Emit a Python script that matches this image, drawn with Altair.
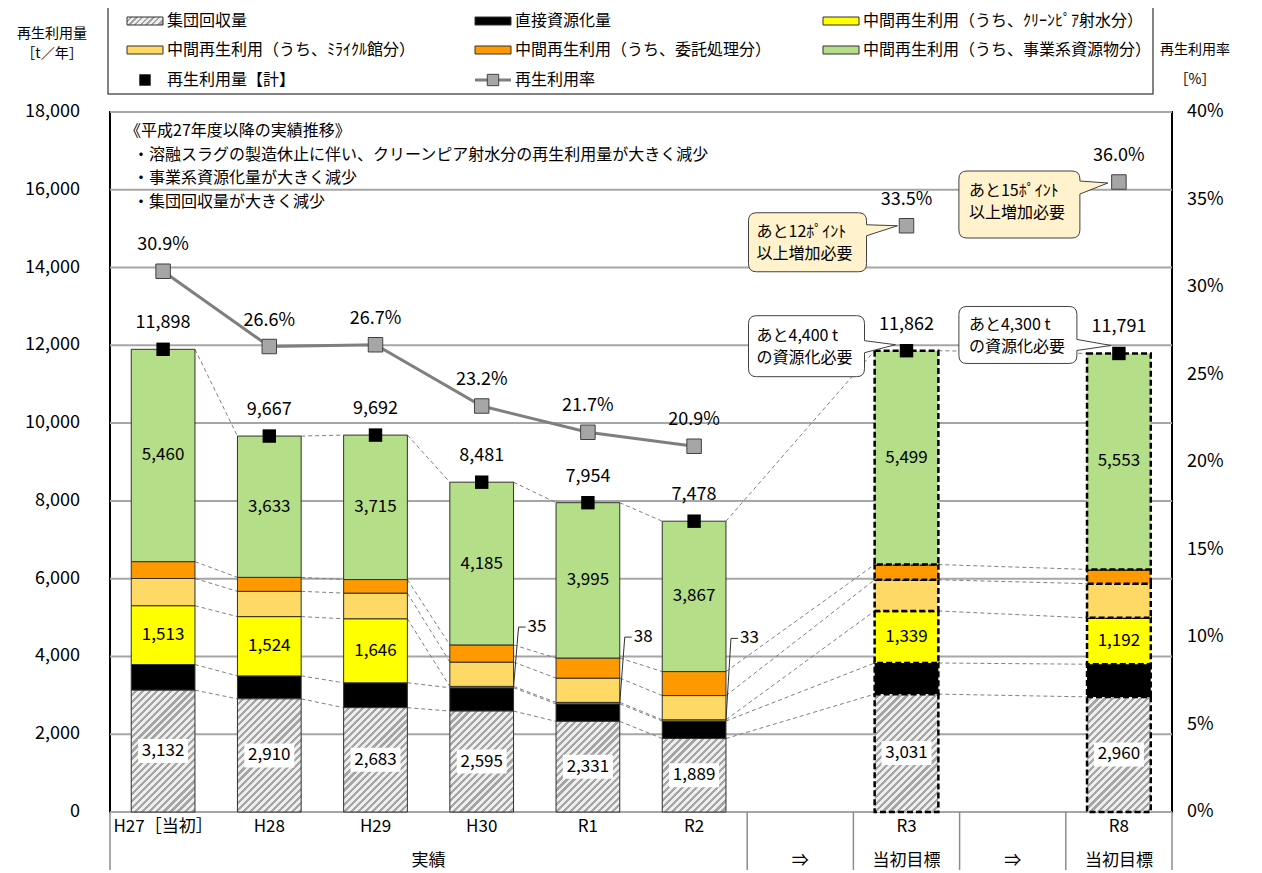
import altair as alt
import numpy as np
import pandas as pd

FONT = "Noto Sans CJK JP"

# ---------------- data ----------------
categories = ["H27［当初］", "H28", "H29", "H30", "R1", "R2", "R3", "R8"]
category_slots = [0, 1, 2, 3, 4, 5, 7, 9]
is_target = [False, False, False, False, False, False, True, True]
group_labels = ["実績", "⇒", "当初目標", "⇒", "当初目標"]
group_bounds = [0, 6, 7, 8, 9, 10]

series_names = [
    "集団回収量",
    "直接資源化量",
    "中間再生利用（うち、ｸﾘｰﾝﾋﾟｱ射水分）",
    "中間再生利用（うち、ﾐﾗｲｸﾙ館分）",
    "中間再生利用（うち、委託処理分）",
    "中間再生利用（うち、事業系資源物分）",
]
shudan = [3132, 2910, 2683, 2595, 2331, 1889, 3031, 2960]
chokusetsu = [660, 590, 640, 600, 450, 450, 800, 840]
cleanpia = [1513, 1524, 1646, 35, 38, 33, 1339, 1192]
miraikuru = [700, 650, 660, 625, 624, 622, 800, 880]
itaku = [433, 360, 348, 441, 516, 617, 393, 366]
jigyokei = [5460, 3633, 3715, 4185, 3995, 3867, 5499, 5553]
totals = [11898, 9667, 9692, 8481, 7954, 7478, 11862, 11791]
rates = [30.9, 26.6, 26.7, 23.2, 21.7, 20.9, 33.5, 36.0]

left_ticks = [0, 2000, 4000, 6000, 8000, 10000, 12000, 14000, 16000, 18000]
right_ticks = [0, 5, 10, 15, 20, 25, 30, 35, 40]

total_legend = "再生利用量【計】"
rate_legend = "再生利用率"

annotation_lines = [
    "《平成27年度以降の実績推移》",
    "・溶融スラグの製造休止に伴い、クリーンピア射水分の再生利用量が大きく減少",
    "・事業系資源化量が大きく減少",
    "・集団回収量が大きく減少",
]
callout_texts = [
    "あと12ﾎﾟｲﾝﾄ\n以上増加必要",
    "あと15ﾎﾟｲﾝﾄ\n以上増加必要",
    "あと4,400 t\nの資源化必要",
    "あと4,300 t\nの資源化必要",
]
left_title = ["再生利用量", "［t／年］"]
right_title = ["再生利用率", "［%］"]

# ---------------- layout / style ----------------
W, H = 1062, 700
N_SLOTS = 10
YMAX = 18000
RMAX = 40
PX_X = W / N_SLOTS
PX_Y = H / YMAX
BAR_HALF = 0.3
seg_colors = [None, "#000000", "#FFFF00", "#FFD966", "#FF9900", "#B5DE88"]
HATCH_LIGHT, HATCH_DARK = "#eeeeee", "#a5a5a5"

x_scale = alt.Scale(domain=[0, N_SLOTS], nice=False, zero=False)
y_scale = alt.Scale(domain=[0, YMAX], nice=False, zero=True)
r_scale = alt.Scale(domain=[0, RMAX], nice=False, zero=True)


def X(f):
    return alt.X(f, type="quantitative", scale=x_scale, axis=None)


def Y(f):
    return alt.Y(f, type="quantitative", scale=y_scale, axis=None)


def R(f):
    return alt.Y(f, type="quantitative", scale=r_scale, axis=None)


def PX(f):
    return alt.X(f, type="quantitative", scale=None, axis=None)


def PY(f):
    return alt.Y(f, type="quantitative", scale=None, axis=None)


def hatch_gradient(w_px, h_px, period=5.0, dark_frac=0.45):
    length = (w_px ** 2 + h_px ** 2) / (w_px * np.sqrt(2))
    n = length / period
    stops = []
    k = 0
    while k < n:
        a = k / n
        b = min((k + 1 - dark_frac) / n, 1.0)
        c = min((k + 1) / n, 1.0)
        stops += [
            alt.GradientStop(offset=a, color=HATCH_LIGHT),
            alt.GradientStop(offset=b, color=HATCH_LIGHT),
            alt.GradientStop(offset=b, color=HATCH_DARK),
            alt.GradientStop(offset=c, color=HATCH_DARK),
        ]
        k += 1
    return alt.LinearGradient(gradient="linear", stops=stops, x1=0, y1=0, x2=1, y2=h_px / w_px)


# ---------------- derived tables ----------------
series_values = [shudan, chokusetsu, cleanpia, miraikuru, itaku, jigyokei]
rows = []
for i, cat in enumerate(categories):
    c = category_slots[i] + 0.5
    base = 0
    for k, vals in enumerate(series_values):
        v = vals[i]
        rows.append(dict(cat=cat, i=i, k=k, series=series_names[k], x=c - BAR_HALF, x2=c + BAR_HALF,
                         xm=c, y0=base, y1=base + v, v=v, mid=base + v / 2, lab=f"{v:,}",
                         target=is_target[i]))
        base += v
bars = pd.DataFrame(rows)

conn = []
for i in range(len(categories) - 1):
    for k in range(len(series_values)):
        a = bars[(bars.i == i) & (bars.k == k)].iloc[0]
        b = bars[(bars.i == i + 1) & (bars.k == k)].iloc[0]
        conn.append(dict(x=a.x2, x2=b.x, y=a.y1, y2=b.y1))
conn = pd.DataFrame(conn)

pts = pd.DataFrame(dict(
    xc=[s + 0.5 for s in category_slots], total=totals, rate=rates,
    tlab=[f"{t:,}" for t in totals], rlab=[f"{r:.1f}%" for r in rates],
    target=is_target,
))

# ---------------- volume layers ----------------
lt = pd.DataFrame({"v": left_ticks, "lab": [f"{t:,}" for t in left_ticks]})
grid_layer = alt.Chart(lt).mark_rule(color="#a6a6a6", strokeWidth=2).encode(
    y=Y("v"), x=alt.value(0), x2=alt.value(W))
left_labels = alt.Chart(lt).mark_text(font=FONT, fontSize=18, align="right", baseline="middle",
                                      color="#000000").encode(y=Y("v"), x=alt.value(-30), text="lab:N")

conn_layer = alt.Chart(conn).mark_rule(color="#7f7f7f", strokeWidth=1, strokeDash=[4, 3]).encode(
    x=X("x"), x2="x2", y=Y("y"), y2="y2")

solid = bars[bars.k > 0]
color_enc = alt.Color("series:N", scale=alt.Scale(domain=series_names[1:], range=seg_colors[1:]), legend=None)
bars_actual = alt.Chart(solid[~solid.target]).mark_rect(stroke="#303030", strokeWidth=1).encode(
    x=X("x"), x2="x2", y=Y("y0"), y2="y1", fill=color_enc)
bars_target = alt.Chart(solid[solid.target]).mark_rect(stroke="#000000", strokeWidth=2.5, strokeDash=[6, 3]).encode(
    x=X("x"), x2="x2", y=Y("y0"), y2="y1", fill=color_enc)

hatch_layers = []
for _, r in bars[bars.k == 0].iterrows():
    g = hatch_gradient(2 * BAR_HALF * PX_X, r.v * PX_Y)
    if r.target:
        props = dict(fill=g, stroke="#000000", strokeWidth=2.5, strokeDash=[6, 3])
    else:
        props = dict(fill=g, stroke="#303030", strokeWidth=1)
    hatch_layers.append(alt.Chart(pd.DataFrame([r])).mark_rect(**props).encode(
        x=X("x"), x2="x2", y=Y("y0"), y2="y1"))

sh = bars[bars.k == 0]
label_box = alt.Chart(sh).mark_point(shape="M-25,-12H25V12H-25Z", size=4, filled=True, fill="#ffffff",
                                     strokeWidth=0, opacity=1).encode(x=X("xm"), y=Y("mid"))
sh_text = alt.Chart(sh).mark_text(font=FONT, fontSize=17, color="#000000").encode(
    x=X("xm"), y=Y("mid"), text="lab:N")

inside = bars[((bars.k == 2) & (bars.v > 100)) | (bars.k == 5)]
inside_text = alt.Chart(inside).mark_text(font=FONT, fontSize=17, color="#000000").encode(
    x=X("xm"), y=Y("mid"), text="lab:N")

# small values with leader lines
small = bars[(bars.k == 2) & (bars.v < 100)].reset_index(drop=True)
small_dy_px = [-60, -66, -82]
lead = []
for j, r in small.iterrows():
    yk = r.mid - small_dy_px[j] / PX_Y
    xk = r.x2 + 5 / PX_X
    lead.append(dict(x=r.x2, y=r.mid, x2=xk, y2=yk, tx=r.x2 + 14 / PX_X, ty=yk, lab=r.lab))
    lead.append(dict(x=xk, y=yk, x2=r.x2 + 12 / PX_X, y2=yk, tx=None, ty=None, lab=None))
lead = pd.DataFrame(lead)
lead_rules = alt.Chart(lead).mark_rule(color="#303030", strokeWidth=1).encode(x=X("x"), x2="x2", y=Y("y"), y2="y2")
lead_text = alt.Chart(lead.dropna()).mark_text(font=FONT, fontSize=17, align="left", color="#000000").encode(
    x=X("tx"), y=Y("ty"), text="lab:N")

total_marks = alt.Chart(pts).mark_square(size=180, color="#000000", opacity=1).encode(x=X("xc"), y=Y("total"))
total_text = alt.Chart(pts).mark_text(font=FONT, fontSize=18, dy=-26, color="#000000").encode(
    x=X("xc"), y=Y("total"), text="tlab:N")


def callout_path(x0, x1, y0, y1, t_top, t_bot, tipx, tipy, r=8):
    return (f"M{x0 + r},{y0}H{x1 - r}Q{x1},{y0} {x1},{y0 + r}V{t_top}L{tipx},{tipy}L{x1},{t_bot}"
            f"V{y1 - r}Q{x1},{y1} {x1 - r},{y1}H{x0 + r}Q{x0},{y1} {x0},{y1 - r}V{y0 + r}Q{x0},{y0} {x0 + r},{y0}Z")


def callout(xv, yv, ench, text, fill, geom, text_dx, text_dy):
    df = pd.DataFrame({"x": [xv], "y": [yv], "t": [text]})
    shape = alt.Chart(df).mark_point(shape=callout_path(*geom), size=4, filled=True, fill=fill,
                                     stroke="#404040", strokeWidth=1, opacity=1).encode(x=X("x"), y=ench("y"))
    txt = alt.Chart(df).mark_text(font=FONT, fontSize=16, align="left", baseline="middle", lineBreak="\n",
                                  lineHeight=22, dx=text_dx, dy=text_dy, color="#000000").encode(
        x=X("x"), y=ench("y"), text="t:N")
    return [shape, txt]


i3, i8 = categories.index("R3"), categories.index("R8")
vol_callouts = (
    callout(pts.xc[i3], totals[i3], Y, callout_texts[2], "#ffffff",
            (-158, -42, -35, 26, -10, 2, -11, -6), -150, -15)
    + callout(pts.xc[i8], totals[i8], Y, callout_texts[3], "#ffffff",
              (-160, -42, -47, 10, -14, -3, -8, -8), -150, -28)
)
rate_callouts = (
    callout(pts.xc[i3], rates[i3], R, callout_texts[0], "#FFF2CC",
            (-158, -40, -13, 46, -1, 10, -9, 0), -150, 6)
    + callout(pts.xc[i8], rates[i8], R, callout_texts[1], "#FFF2CC",
              (-160, -39, -11, 56, -1, 12, -11, 1), -150, 9)
)

# category table under the plot
cat_df = pd.DataFrame({"xc": [s + 0.5 for s in category_slots], "lab": categories})
cat_text = alt.Chart(cat_df).mark_text(font=FONT, fontSize=17, color="#000000").encode(
    x=X("xc"), y=alt.value(H + 15), text="lab:N")
grp_df = pd.DataFrame({"xc": [(group_bounds[j] + group_bounds[j + 1]) / 2 for j in range(len(group_labels))],
                       "lab": group_labels})
grp_text = alt.Chart(grp_df).mark_text(font=FONT, fontSize=17, color="#000000").encode(
    x=X("xc"), y=alt.value(H + 49), text="lab:N")
tbl_lines = alt.Chart(pd.DataFrame({"b": group_bounds})).mark_rule(color="#8c8c8c", strokeWidth=1.5).encode(
    x=X("b"), y=alt.value(H), y2=alt.value(H + 62))

# legend
LEG_COL = [17, 365, 713]
LEG_ROW = [-91, -62, -32]
SW = 36
leg_items = series_names + [total_legend, rate_legend]
leg = pd.DataFrame({
    "lab": leg_items,
    "col": [j % 3 for j in range(len(leg_items))],
    "row": [j // 3 for j in range(len(leg_items))],
    "fill": seg_colors + [None, None],
})
leg["lx"] = [LEG_COL[c] for c in leg.col]
leg["ly"] = [LEG_ROW[r] for r in leg.row]
leg["lx2"] = leg.lx + SW
leg["lxc"] = leg.lx + SW / 2
leg["ty0"] = leg.ly - 4
leg["ty1"] = leg.ly + 4
leg["tx"] = leg.lx + 40

leg_box = alt.Chart(pd.DataFrame({"a": [0]})).mark_rect(fill="#ffffff", stroke="#595959", strokeWidth=1.5).encode(
    x=alt.value(-2), x2=alt.value(1043), y=alt.value(-108), y2=alt.value(-18))
leg_solid = alt.Chart(leg.iloc[1:6]).mark_rect(stroke="#303030", strokeWidth=1).encode(
    x=PX("lx"), x2="lx2", y=PY("ty0"), y2="ty1", fill=alt.Color("fill:N", scale=None))
leg_hatch = alt.Chart(leg.iloc[0:1]).mark_rect(fill=hatch_gradient(SW, 8, period=4), stroke="#303030",
                                               strokeWidth=1).encode(x=PX("lx"), x2="lx2", y=PY("ty0"), y2="ty1")
leg_total = alt.Chart(leg.iloc[6:7]).mark_square(size=130, color="#000000", opacity=1).encode(x=PX("lxc"), y=PY("ly"))
leg_rate_line = alt.Chart(leg.iloc[7:8]).mark_rule(color="#7f7f7f", strokeWidth=3).encode(
    x=PX("lx"), x2="lx2", y=PY("ly"))
leg_rate_mark = alt.Chart(leg.iloc[7:8]).mark_square(size=130, fill="#a6a6a6", stroke="#404040", strokeWidth=1,
                                                     opacity=1).encode(x=PX("lxc"), y=PY("ly"))
leg_text = alt.Chart(leg).mark_text(font=FONT, fontSize=16, align="left", baseline="middle", color="#000000").encode(
    x=PX("tx"), y=PY("ly"), text="lab:N")

# annotation block and axis titles
ann = pd.DataFrame({"lab": annotation_lines, "px": [15, 23, 23, 23], "py": [19, 42.5, 66, 89.5]})
ann_text = alt.Chart(ann).mark_text(font=FONT, fontSize=16, align="left", baseline="middle", color="#000000").encode(
    x=PX("px"), y=PY("py"), text="lab:N")
titles = pd.DataFrame({"lab": left_title + right_title, "px": [-58, -58, 1085, 1085], "py": [-78, -58, -62, -32]})
title_text = alt.Chart(titles).mark_text(font=FONT, fontSize=14, align="center", baseline="middle", color="#000000").encode(
    x=PX("px"), y=PY("py"), text="lab:N")

volume = alt.layer(
    grid_layer, left_labels, conn_layer, bars_actual, bars_target, *hatch_layers, label_box, sh_text, inside_text,
    lead_rules, lead_text, total_marks, total_text, *vol_callouts, tbl_lines, cat_text, grp_text,
    leg_box, leg_solid, leg_hatch, leg_total, leg_rate_line, leg_rate_mark, leg_text, ann_text, title_text,
)

# ---------------- rate layers ----------------
rt = pd.DataFrame({"v": right_ticks, "lab": [f"{t}%" for t in right_ticks]})
right_labels = alt.Chart(rt).mark_text(font=FONT, fontSize=18, align="left", baseline="middle",
                                       color="#000000").encode(y=R("v"), x=alt.value(W + 15), text="lab:N")
rate_line = alt.Chart(pts[~pts.target]).mark_line(color="#7f7f7f", strokeWidth=3).encode(x=X("xc"), y=R("rate"))
rate_marks = alt.Chart(pts).mark_square(size=210, fill="#a6a6a6", stroke="#404040", strokeWidth=1, opacity=1).encode(
    x=X("xc"), y=R("rate"))
rate_text = alt.Chart(pts).mark_text(font=FONT, fontSize=18, dy=-26, color="#000000").encode(
    x=X("xc"), y=R("rate"), text="rlab:N")

rate = alt.layer(right_labels, rate_line, rate_marks, rate_text, *rate_callouts)

chart = alt.layer(volume, rate).resolve_scale(y="independent").properties(
    width=W, height=H,
    padding={"left": 102, "top": 104, "right": 82, "bottom": 58},
    autosize=alt.AutoSizeParams(type="none"),
).configure_view(stroke="#000000", strokeWidth=2)

chart.save("out.html", embed_options={"renderer": "svg", "actions": False})
